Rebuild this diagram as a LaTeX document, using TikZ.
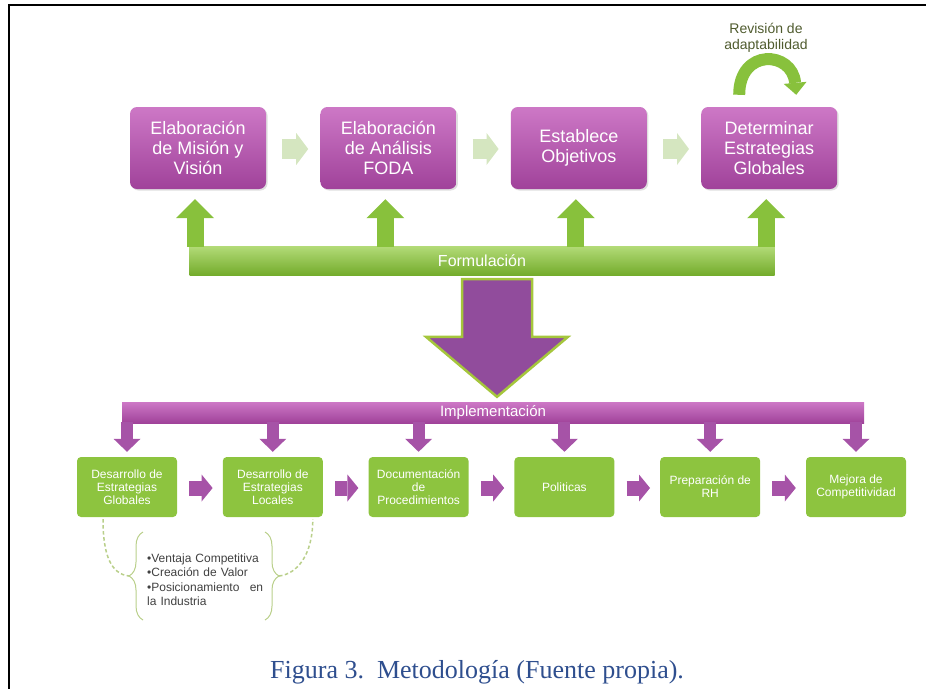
\documentclass[tikz,border=0pt]{standalone}
\usepackage{fontspec}
\setmainfont{Liberation Serif}
\newfontfamily\cajafont{Liberation Sans}
\usetikzlibrary{positioning, calc, arrows.meta, shadows, decorations.pathreplacing}

\definecolor{moradoarriba}{HTML}{CD78C6}
\definecolor{moradoabajo}{HTML}{A0429A}
\definecolor{moradoflecha}{HTML}{A653A7}
\definecolor{moradogrande}{HTML}{914C9C}
\definecolor{verdebarra1}{HTML}{B3DB78}
\definecolor{verdebarra2}{HTML}{74AC2C}
\definecolor{verdeflecha}{HTML}{88C13C}
\definecolor{verdeclaro}{HTML}{D5E6C0}
\definecolor{verdecaja}{HTML}{8DC43F}
\definecolor{verdeborde}{HTML}{A5C63C}
\definecolor{verdellave}{HTML}{B9CF8A}
\definecolor{textorevision}{HTML}{4F5B2E}
\definecolor{textolista}{HTML}{404040}
\definecolor{azulleyenda}{HTML}{2E4E8E}

\tikzset{
  etapa/.style={rounded corners=7pt, top color=moradoarriba, bottom color=moradoabajo,
    text=white, font=\cajafont\fontsize{18}{20}\selectfont, align=center,
    minimum width=136pt, minimum height=82pt, inner sep=2pt,
    drop shadow={opacity=0.25, shadow xshift=1.5pt, shadow yshift=-1.5pt}},
  accion/.style={rounded corners=4pt, fill=verdecaja, text=white,
    font=\cajafont\fontsize{12}{13}\selectfont, align=center,
    minimum width=100pt, minimum height=60pt, inner sep=1pt},
  barraverde/.style={top color=verdebarra1, bottom color=verdebarra2, text=white,
    font=\cajafont\fontsize{16}{18}\selectfont, minimum width=585pt, minimum height=29pt, inner sep=0pt},
  barramorada/.style={top color=moradoarriba, bottom color=moradoabajo, text=white,
    font=\cajafont\fontsize{15}{17}\selectfont, minimum width=742pt, minimum height=21pt, inner sep=0pt},
  flechaclara/.style={draw=verdeclaro, line width=20pt, -{Triangle[length=12pt,width=32pt,line width=0pt]}},
  flechaverde/.style={draw=verdeflecha, line width=17pt, -{Triangle[length=19pt,width=38pt,line width=0pt]}},
  flechacurva/.style={draw=verdeflecha, line width=12pt, -{Triangle[length=12pt,width=23pt,line width=0pt]}},
  flechamorada/.style={draw=moradoflecha, line width=12pt, -{Triangle[length=13pt,width=27pt,line width=0pt]}},
  flechalado/.style={draw=moradoflecha, line width=15pt, -{Triangle[length=11pt,width=27pt,line width=0pt]}},
  flechagrande/.style={fill=moradogrande, draw=verdeborde, line width=2.5pt, line join=miter},
  llave/.style={draw=verdellave, line width=1pt, decorate, decoration={brace, amplitude=14pt}},
  guion/.style={draw=verdellave, line width=1.5pt, dash pattern=on 3.5pt off 2.5pt},
  revision/.style={text=textorevision, font=\cajafont\fontsize{14}{16}\selectfont, align=center},
  lista/.style={text=textolista, font=\cajafont\fontsize{12}{14.5}\selectfont, align=left, text width=116pt, inner sep=0pt},
  leyenda/.style={text=azulleyenda, font=\fontsize{26}{30}\selectfont, inner sep=0pt}
}

\begin{document}
\begin{tikzpicture}[x=1pt, y=-1pt]
  \useasboundingbox (0,0) rectangle (926,689);
  \draw[line width=2pt] (926,5) -- (9,5) -- (9,689);

  % formulacion
  \node[etapa] (mision) at (198,148) {Elaboración\\de Misión y\\Visión};
  \node[etapa, right=54pt of mision] (foda) {Elaboración\\de Análisis\\FODA};
  \node[etapa, right=54pt of foda] (objetivos) {Establece\\Objetivos};
  \node[etapa, right=54pt of objetivos] (globales) {Determinar\\Estrategias\\Globales};
  \foreach \a/\b in {mision/foda, objetivos/globales, foda/objetivos}
    \draw[flechaclara] ($(\a.east)+(16,1)$) -- ($(\b.west)+(-12,1)$);

  \node[barraverde] (formulacion) at (482,260.5) {Formulación};
  \foreach \n in {mision, foda, objetivos, globales}
    \draw[flechaverde] ($(\n.south |- formulacion.north)+(-3,1)$) -- ($(\n.south)+(-3,10)$);

  \node[revision] (revision) at (766,38) {Revisión de\\adaptabilidad};
  \draw[flechacurva] ($(globales.north)+(-30,-12)$) .. controls +(0,-47) and +(-4,-44) .. ($(globales.north)+(27,-12)$);

  % implementacion
  \node[barramorada] (implementacion) at (493,412.5) {Implementación};
  \draw[flechagrande] let \p1 = ($(formulacion.south)+(15,4)$), \p2 = ($(implementacion.north)+(4,-5)$) in
    (\x1-35pt,\y1) -- (\x1+35pt,\y1) -- (\x1+35pt,\y2+60pt) -- (\x1+71pt,\y2+60pt) -- (\x1,\y2)
    -- (\x1-71pt,\y2+60pt) -- (\x1-35pt,\y2+60pt) -- cycle;

  \node[accion] (eglobales) at (127,487) {Desarrollo de\\Estrategias\\Globales};
  \node[accion, right=45.4pt of eglobales] (elocales) {Desarrollo de\\Estrategias\\Locales};
  \node[accion, right=45.4pt of elocales] (documentacion) {Documentación\\de\\Procedimientos};
  \node[accion, right=45.4pt of documentacion] (politicas) {Politicas};
  \node[accion, right=45.4pt of politicas] (rh) {Preparación de\\RH};
  \node[accion, right=45.4pt of rh] (competitividad) {Mejora de\\Competitividad};

  \foreach \n in {eglobales, elocales, documentacion, politicas, rh, competitividad}
    \draw[flechamorada] ($(\n.north |- implementacion.south)+(0,-1)$) -- ($(\n.north)+(0,-5)$);
  \foreach \a/\b in {eglobales/elocales, elocales/documentacion, documentacion/politicas,
                     politicas/rh, rh/competitividad}
    \draw[flechalado] ($(\a.east)+(12,1)$) -- ($(\b.west)+(-10,1)$);

  % llaves
  \node[lista, anchor=west] (ventajas) at (147,579.5)
    {•Ventaja Competitiva\\•Creación de Valor\\•Posicionamiento\hfill en\\la Industria};
  \draw[llave] (143,620) -- (143,532);
  \draw[llave] (265,532) -- (265,620);
  \coordinate (puntaizq) at (129,576);
  \coordinate (puntader) at (279,576);
  \draw[guion] ($(eglobales.south)+(-24,2)$) .. controls +(0,36) and +(-18,-2) .. (puntaizq);
  \draw[guion] (puntader) .. controls +(18,-2) and +(0,36) .. ($(elocales.south)+(40,2)$);

  \node[leyenda, anchor=base west] (pie) at (270,678) {Figura 3.\ \ Metodología (Fuente propia).};
\end{tikzpicture}
\end{document}
